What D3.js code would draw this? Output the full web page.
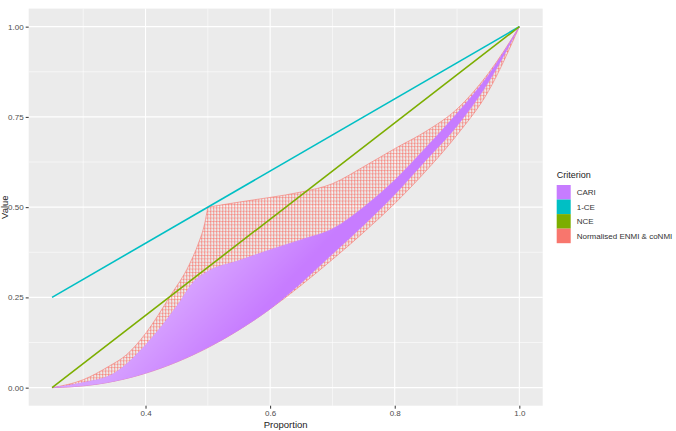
<!DOCTYPE html>
<html><head><meta charset="utf-8">
<script src="https://cdn.jsdelivr.net/npm/d3@7"></script>
<style>
body{margin:0;background:#fff;}
text{font-family:Arial,"Liberation Sans",sans-serif;}
</style>
</head><body>
<svg id="chart" width="676" height="431"></svg>
<script>
// ---- data ----
const categories = ["CARI", "1-CE", "NCE", "Normalised ENMI & coNMI"];
const categoryColors = ["#C77CFF", "#00BFC4", "#7CAE00", "#F8766D"];

const xTickValues = [0.4, 0.6, 0.8, 1.0];
const xTickLabels = ["0.4", "0.6", "0.8", "1.0"];
const xMinorValues = [0.3, 0.5, 0.7, 0.9];
const yTickValues = [0, 0.25, 0.5, 0.75, 1.0];
const yTickLabels = ["0.00", "0.25", "0.50", "0.75", "1.00"];
const yMinorValues = [0.125, 0.375, 0.625, 0.875];

// 1-CE and NCE straight lines
const ceX = [0.25, 1.0];
const ceY = [0.25, 1.0];
const nceX = [0.25, 1.0];
const nceY = [0.0, 1.0];

// Normalised ENMI & coNMI mesh envelope: left edge up to the cusp, top edge, lower edge
const nmiLeftX = [0.25, 0.3, 0.34, 0.37, 0.4, 0.44, 0.47, 0.485, 0.495, 0.5];
const nmiLeftY = [0, 0.022, 0.058, 0.092, 0.15, 0.255, 0.34, 0.4, 0.455, 0.5];
const nmiTopX = [0.5, 0.55, 0.6, 0.65, 0.7, 0.75, 0.8, 0.85, 0.9, 0.95, 1.0];
const nmiTopY = [0.5, 0.514, 0.527, 0.542, 0.565, 0.612, 0.662, 0.71, 0.772, 0.87, 1.0];
const nmiLowerX = [0.25, 0.3, 0.35, 0.4, 0.45, 0.5, 0.55, 0.6, 0.65, 0.7, 0.75, 0.8, 0.85, 0.9, 0.95, 1.0];
const nmiLowerY = [0, 0.005, 0.018, 0.04, 0.071, 0.111, 0.16, 0.218, 0.284, 0.355, 0.43, 0.51, 0.6, 0.7, 0.82, 1.0];

// CARI band envelope
const cariUpperX = [0.25, 0.3, 0.35, 0.4, 0.45, 0.48, 0.5, 0.55, 0.6, 0.65, 0.7, 0.75, 0.8, 0.85, 0.9, 0.95, 1.0];
const cariUpperY = [0, 0.014, 0.04, 0.118, 0.225, 0.298, 0.322, 0.352, 0.382, 0.41, 0.44, 0.5, 0.575, 0.665, 0.76, 0.865, 1.0];
const cariLowerX = [0.25, 0.3, 0.35, 0.4, 0.45, 0.5, 0.55, 0.6, 0.65, 0.7, 0.75, 0.8, 0.85, 0.9, 0.95, 1.0];
const cariLowerY = [0, 0.005, 0.018, 0.04, 0.071, 0.111, 0.16, 0.218, 0.29, 0.37, 0.45, 0.535, 0.63, 0.725, 0.845, 1.0];

// ---- layout ----
const svg = d3.select("#chart");
const x = d3.scaleLinear().domain([0.2125, 1.0375]).range([28.7, 542.7]);
const y = d3.scaleLinear().domain([-0.05, 1.05]).range([405.7, 8.6]);
const [px0, px1] = x.range();
const [py0, py1] = [y.range()[1], y.range()[0]];

const defs = svg.append("defs");
const pat = defs.append("pattern").attr("id", "mesh")
  .attr("patternUnits", "userSpaceOnUse").attr("width", 3).attr("height", 3.4);
pat.append("line").attr("x1", 0.5).attr("x2", 0.9).attr("y1", 0).attr("y2", 3.4)
  .attr("stroke", categoryColors[3]).attr("stroke-width", 0.65);
pat.append("line").attr("x1", 0).attr("x2", 3).attr("y1", 0.5).attr("y2", 0.5)
  .attr("stroke", categoryColors[3]).attr("stroke-width", 0.55);
// lighter tint towards the top of the CARI band
const grad = defs.append("linearGradient").attr("id", "cariTint")
  .attr("gradientUnits", "userSpaceOnUse")
  .attr("x1", x(0.5)).attr("y1", y(0.33)).attr("x2", x(0.58)).attr("y2", y(0.2));
grad.append("stop").attr("offset", 0).attr("stop-color", "#fff").attr("stop-opacity", 0.28);
grad.append("stop").attr("offset", 1).attr("stop-color", "#fff").attr("stop-opacity", 0);
defs.append("clipPath").attr("id", "panelClip").append("rect")
  .attr("x", px0).attr("y", py0).attr("width", px1 - px0).attr("height", py1 - py0);

// panel
svg.append("rect").attr("x", px0).attr("y", py0).attr("width", px1 - px0).attr("height", py1 - py0)
  .attr("fill", "#EBEBEB");
const grid = svg.append("g");
grid.selectAll(".xm").data(xMinorValues).join("line")
  .attr("x1", d => x(d)).attr("x2", d => x(d)).attr("y1", py0).attr("y2", py1)
  .attr("stroke", "#fff").attr("stroke-width", 0.55);
grid.selectAll(".ym").data(yMinorValues).join("line")
  .attr("y1", d => y(d)).attr("y2", d => y(d)).attr("x1", px0).attr("x2", px1)
  .attr("stroke", "#fff").attr("stroke-width", 0.55);
grid.selectAll(".xM").data(xTickValues).join("line")
  .attr("x1", d => x(d)).attr("x2", d => x(d)).attr("y1", py0).attr("y2", py1)
  .attr("stroke", "#fff").attr("stroke-width", 1.1);
grid.selectAll(".yM").data(yTickValues).join("line")
  .attr("y1", d => y(d)).attr("y2", d => y(d)).attr("x1", px0).attr("x2", px1)
  .attr("stroke", "#fff").attr("stroke-width", 1.1);

const plot = svg.append("g").attr("clip-path", "url(#panelClip)");
const line = d3.line().x(d => x(d[0])).y(d => y(d[1]));
const smooth = d3.line().x(d => x(d[0])).y(d => y(d[1])).curve(d3.curveMonotoneX);
const zip = (a, b) => a.map((v, i) => [v, b[i]]);
// join several smooth pieces into one closed outline
function outline(pieces) {
  return pieces.map((p, i) => {
    const s = smooth(p);
    return i === 0 ? s : "L" + s.slice(1);
  }).join("") + "Z";
}

// NMI mesh
plot.append("path")
  .attr("d", outline([zip(nmiLeftX, nmiLeftY), zip(nmiTopX, nmiTopY), zip(nmiLowerX, nmiLowerY).reverse()]))
  .attr("fill", "url(#mesh)")
  .attr("stroke", categoryColors[3]).attr("stroke-width", 0.6);
// CARI band
const cariOutline = outline([zip(cariUpperX, cariUpperY), zip(cariLowerX, cariLowerY).reverse()]);
plot.append("path").attr("d", cariOutline).attr("fill", categoryColors[0])
  .attr("stroke", categoryColors[0]).attr("stroke-width", 0.5);
plot.append("path").attr("d", cariOutline).attr("fill", "url(#cariTint)");
// lines
plot.append("path").datum(zip(ceX, ceY)).attr("d", line).attr("fill", "none")
  .attr("stroke", categoryColors[1]).attr("stroke-width", 1.6);
plot.append("path").datum(zip(nceX, nceY)).attr("d", line).attr("fill", "none")
  .attr("stroke", categoryColors[2]).attr("stroke-width", 1.6);

// axes
const xAxis = d3.axisBottom(x).tickValues(xTickValues).tickFormat((d, i) => xTickLabels[i])
  .tickSizeOuter(0).tickSizeInner(3).tickPadding(2);
const gx = svg.append("g").attr("transform", `translate(0,${py1})`).call(xAxis);
const yAxis = d3.axisLeft(y).tickValues(yTickValues).tickFormat((d, i) => yTickLabels[i])
  .tickSizeOuter(0).tickSizeInner(3).tickPadding(2);
const gy = svg.append("g").attr("transform", `translate(${px0},0)`).call(yAxis);
[gx, gy].forEach(g => {
  g.select(".domain").remove();
  g.selectAll(".tick line").attr("stroke", "#333").attr("stroke-width", 1);
  g.selectAll(".tick text").attr("fill", "#4D4D4D").attr("font-size", "8px")
    .attr("font-family", "Arial, 'Liberation Sans', sans-serif");
});

svg.append("text").attr("x", (px0 + px1) / 2).attr("y", 428).attr("text-anchor", "middle")
  .attr("font-size", "9.5px").attr("fill", "#222").text("Proportion");
svg.append("text").attr("transform", `translate(7.5,${(py0 + py1) / 2}) rotate(-90)`)
  .attr("text-anchor", "middle").attr("font-size", "9.5px").attr("fill", "#222").text("Value");

// legend
const lg = svg.append("g").attr("transform", "translate(556.7,0)");
lg.append("text").attr("x", 0).attr("y", 178.3).attr("font-size", "9px").attr("fill", "#222").text("Criterion");
const item = lg.selectAll(".item").data(categories).join("g")
  .attr("transform", (d, i) => `translate(0,${185 + i * 14.55})`);
item.append("rect").attr("width", 14).attr("height", 14.55).attr("fill", (d, i) => categoryColors[i]);
item.append("text").attr("x", 20).attr("y", 10.2).attr("font-size", "8px").attr("fill", "#333").text(d => d);
</script>
</body></html>
